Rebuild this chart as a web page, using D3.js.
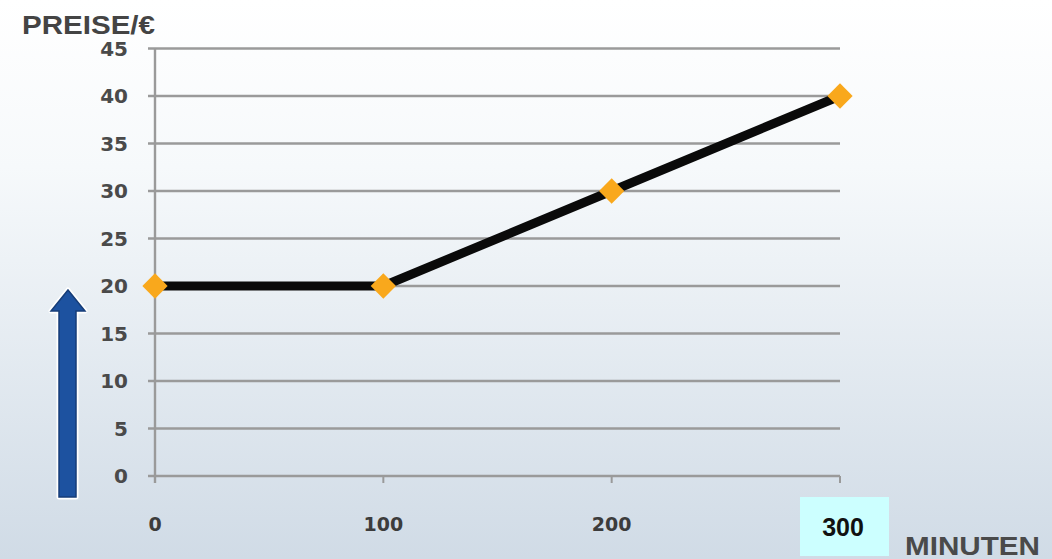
<!DOCTYPE html>
<html><head><meta charset="utf-8">
<script src="https://cdn.jsdelivr.net/npm/d3@7"></script>
<style>html,body{margin:0;padding:0;overflow:hidden;}svg{display:block;}</style>
</head><body>
<svg id="chart" width="1052" height="559"></svg>
<script>
const minutes = [0, 100, 200, 300];
const prices = [20, 20, 30, 40];
const yTicks = [0, 5, 10, 15, 20, 25, 30, 35, 40, 45];
const xTickLabels = ["0", "100", "200", "300"];
const yTitle = "PREISE/€";
const xTitle = "MINUTEN";

const W = 1052, H = 559;
const svg = d3.select("#chart");
const defs = svg.append("defs");
const bg = defs.append("linearGradient").attr("id","bg").attr("x1",0).attr("y1",0).attr("x2",0).attr("y2",1);
bg.append("stop").attr("offset","0%").attr("stop-color","#ffffff");
bg.append("stop").attr("offset","30%").attr("stop-color","#f6f9fb");
bg.append("stop").attr("offset","100%").attr("stop-color","#d0dbe6");
svg.append("rect").attr("width",W).attr("height",H).attr("fill","url(#bg)");

const x = d3.scaleLinear().domain([0,300]).range([155,840]);
const y = d3.scaleLinear().domain([0,45]).range([476,48.5]);

// gridlines
svg.append("g").selectAll("line").data(yTicks).join("line")
  .attr("x1",148).attr("x2",840)
  .attr("y1",d=>y(d)).attr("y2",d=>y(d))
  .attr("stroke","#9a9a9a").attr("stroke-width",2.4);

// y axis line
svg.append("line").attr("x1",x(0)).attr("x2",x(0)).attr("y1",y(45)).attr("y2",483)
  .attr("stroke","#9a9a9a").attr("stroke-width",2.4);
// x ticks
svg.append("g").selectAll("line").data(minutes.slice(1)).join("line")
  .attr("x1",d=>x(d)).attr("x2",d=>x(d)).attr("y1",y(0)).attr("y2",483)
  .attr("stroke","#9a9a9a").attr("stroke-width",2);

const labelFont = "'DejaVu Sans', Verdana, sans-serif";
// y labels
svg.append("g").selectAll("text").data(yTicks).join("text")
  .attr("x",128).attr("y",d=>y(d)).attr("dy","0.36em")
  .attr("text-anchor","end").attr("font-family",labelFont).attr("font-weight","bold")
  .attr("font-size",20).attr("fill","#4a4a4a").text(d=>d);

// x labels (except 300 which is in box)
svg.append("g").selectAll("text").data(minutes.slice(0,3)).join("text")
  .attr("x",d=>x(d)).attr("y",531)
  .attr("text-anchor","middle").attr("font-family",labelFont).attr("font-weight","bold")
  .attr("font-size",19).attr("fill","#3c3c3c").text((d,i)=>xTickLabels[i]);

// 300 box
svg.append("rect").attr("x",800).attr("y",497).attr("width",89).attr("height",59).attr("fill","#ccffff");
svg.append("text").attr("x",843).attr("y",536).attr("text-anchor","middle")
  .attr("font-family","'Liberation Sans', Arial, sans-serif").attr("font-weight","bold")
  .attr("font-size",25).attr("fill","#111").text(xTickLabels[3]);

// titles
svg.append("text").attr("x",22).attr("y",34).attr("font-family","'Liberation Sans', Arial, sans-serif")
  .attr("font-weight","bold").attr("font-size",25).attr("fill","#444")
  .attr("textLength",133).attr("lengthAdjust","spacingAndGlyphs")
  .text(yTitle);
svg.append("text").attr("x",905).attr("y",555).attr("font-family","'Liberation Sans', Arial, sans-serif")
  .attr("font-weight","bold").attr("font-size",25).attr("fill","#4a4a4a")
  .attr("textLength",135).attr("lengthAdjust","spacingAndGlyphs")
  .text(xTitle);

// line
const line = d3.line().x((d,i)=>x(minutes[i])).y(d=>y(d));
svg.append("path").datum(prices).attr("d",line).attr("fill","none")
  .attr("stroke","#0a0a0a").attr("stroke-width",9).attr("stroke-linejoin","round");

// markers
svg.append("g").selectAll("path").data(prices).join("path")
  .attr("d", d3.symbol().type(d3.symbolSquare).size(320))
  .attr("transform",(d,i)=>`translate(${x(minutes[i])},${y(d)}) rotate(45)`)
  .attr("fill","#f9a81c");

// blue arrow
const arrow = d3.path();
arrow.moveTo(68,290); arrow.lineTo(85,311); arrow.lineTo(76,311); arrow.lineTo(76,497);
arrow.lineTo(59,497); arrow.lineTo(59,311); arrow.lineTo(51,311); arrow.closePath();
svg.append("path").attr("d",arrow.toString()).attr("fill","none")
  .attr("stroke","#ffffff").attr("stroke-width",5).attr("stroke-linejoin","round");
svg.append("path").attr("d",arrow.toString()).attr("fill","#1d52a0")
  .attr("stroke","#163d78").attr("stroke-width",1.5);
</script>
</body></html>
